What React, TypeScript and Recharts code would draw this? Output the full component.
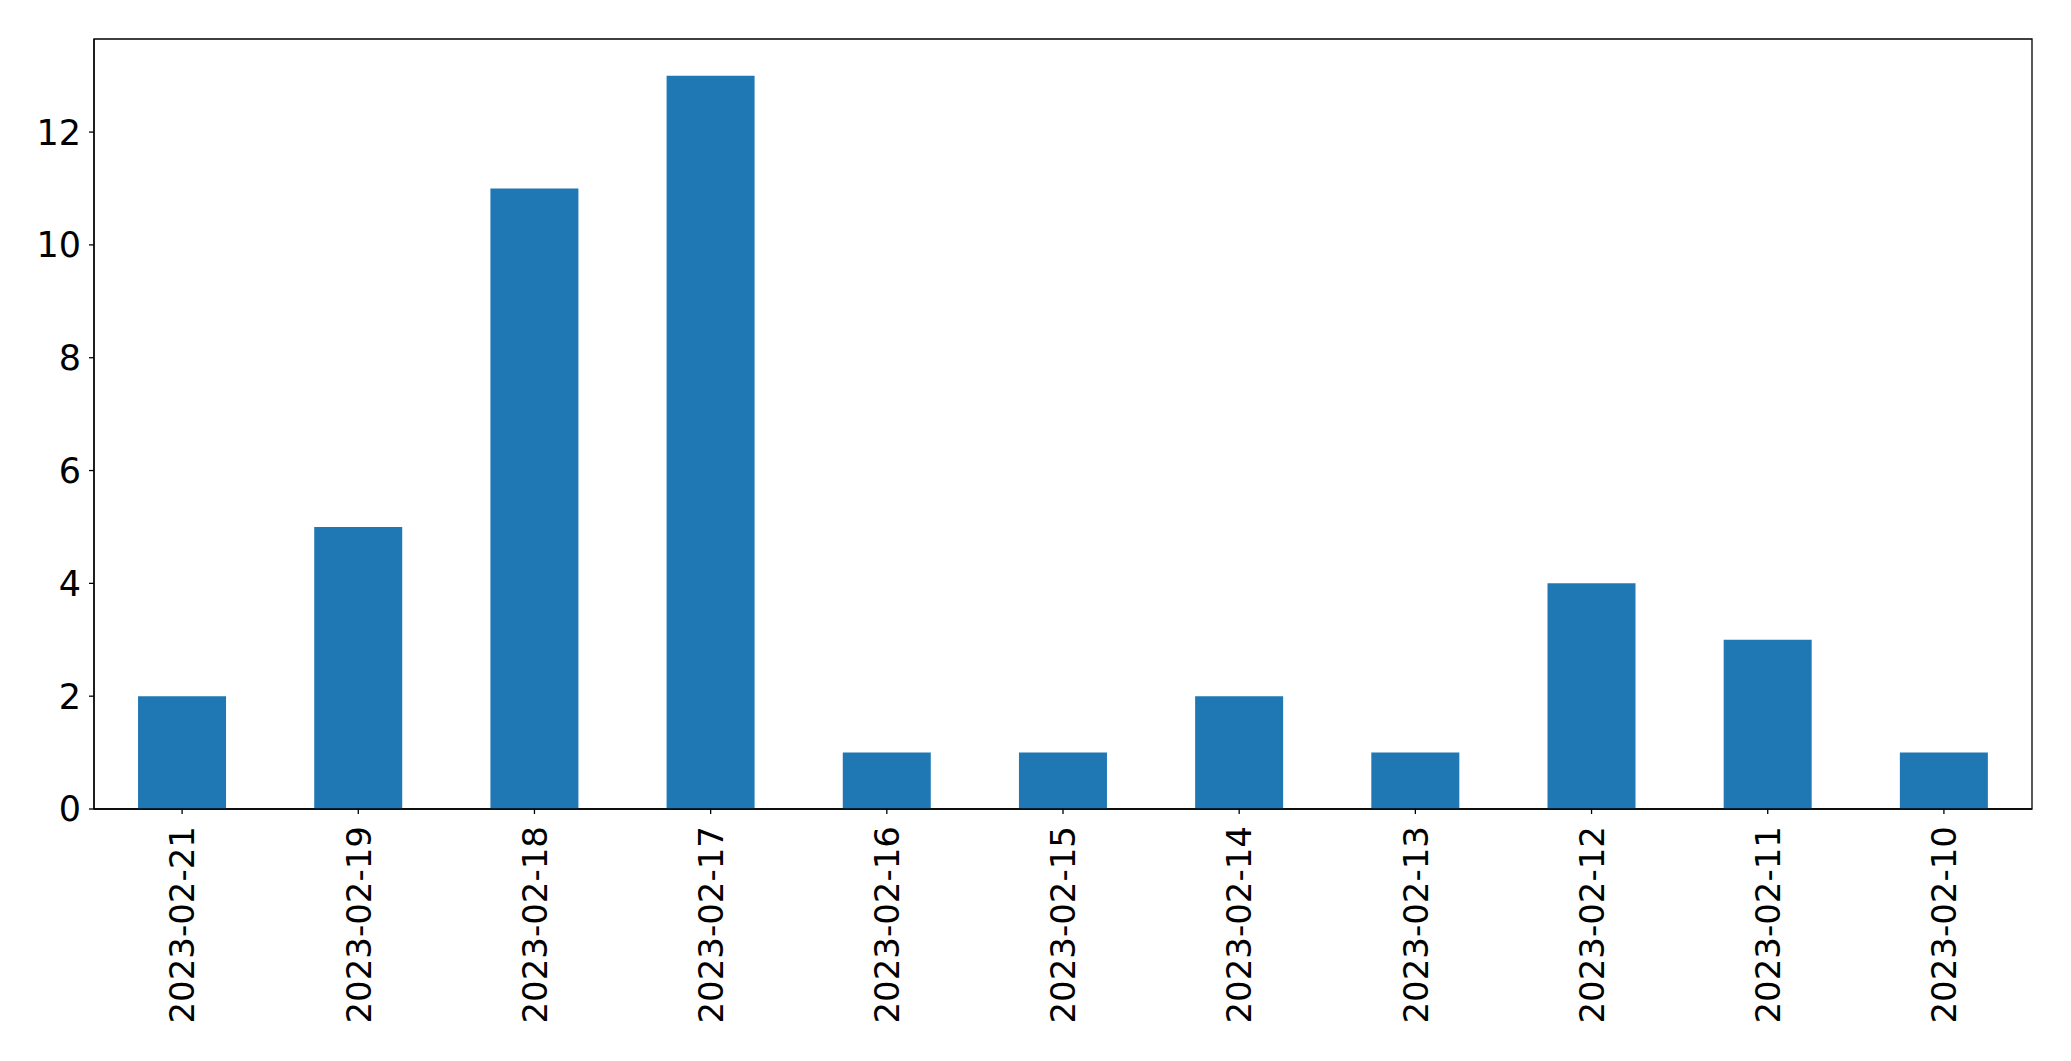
import { BarChart, Bar, XAxis, YAxis, ReferenceArea } from "recharts";

const dates = [
  "2023-02-21",
  "2023-02-19",
  "2023-02-18",
  "2023-02-17",
  "2023-02-16",
  "2023-02-15",
  "2023-02-14",
  "2023-02-13",
  "2023-02-12",
  "2023-02-11",
  "2023-02-10",
];
const counts = [2, 5, 11, 13, 1, 1, 2, 1, 4, 3, 1];
const yTicks = [0, 2, 4, 6, 8, 10, 12];
const yMax = 13.65;

const FONT = "'DejaVu Sans', sans-serif";

const data = dates.map((d, i) => ({ date: d, count: counts[i] }));

function DateTick({ x, y, payload }: any) {
  return (
    <text
      x={x}
      y={y}
      transform={`rotate(-90, ${x}, ${y})`}
      textAnchor="end"
      dy="0.36em"
      fill="#000"
      fontFamily={FONT}
      fontSize={34}
    >
      {payload.value}
    </text>
  );
}

export default function App() {
  return (
    <div style={{ position: "fixed", left: 0, top: 0, background: "#fff" }}>
      <BarChart
        width={2071}
        height={1061}
        data={data}
        margin={{ top: 39, right: 39, bottom: 0, left: 0 }}
        barCategoryGap="25%"
      >
        <XAxis
          dataKey="date"
          interval={0}
          height={252}
          tickSize={5}
          tickMargin={12}
          tick={<DateTick />}
          axisLine={{ stroke: "#000", strokeWidth: 1.3 }}
          tickLine={{ stroke: "#000", strokeWidth: 1.3 }}
        />
        <YAxis
          width={94}
          domain={[0, yMax]}
          ticks={yTicks}
          tickSize={5}
          tickMargin={8}
          tick={{ fill: "#000", fontFamily: FONT, fontSize: 35 }}
          axisLine={{ stroke: "#000", strokeWidth: 1.3 }}
          tickLine={{ stroke: "#000", strokeWidth: 1.3 }}
        />
        <Bar dataKey="count" fill="#1f77b4" isAnimationActive={false} />
        <ReferenceArea
          y1={0}
          y2={yMax}
          fill="none"
          fillOpacity={0}
          stroke="#000"
          strokeWidth={1.3}
        />
      </BarChart>
    </div>
  );
}
